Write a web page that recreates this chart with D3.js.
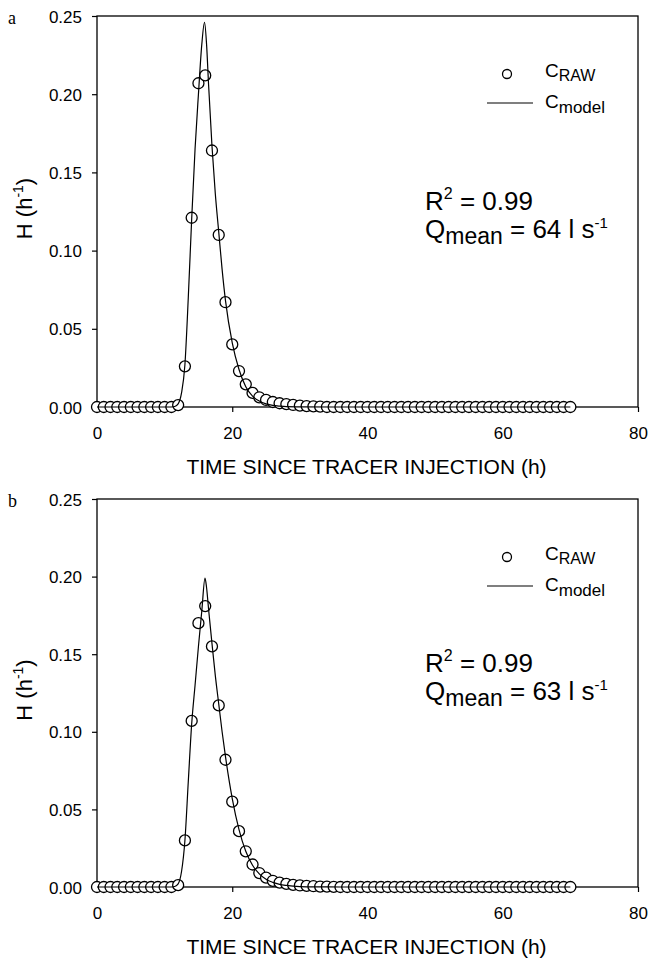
<!DOCTYPE html>
<html>
<head>
<meta charset="utf-8">
<script src="https://cdn.jsdelivr.net/npm/d3@7"></script>
<style>
  body { margin: 0; background: #fff; }
  svg text { font-family: "Liberation Sans", Arial, sans-serif; fill: #000; }
</style>
</head>
<body>
<div id="chart"></div>
<script>
// sampling times of the raw tracer data (h)
const rawTime = [0, 1, 2, 3, 4, 5, 6, 7, 8, 9, 10, 11, 12, 13, 14, 15, 16, 17, 18, 19,
  20, 21, 22, 23, 24, 25, 26, 27, 28, 29, 30, 31, 32, 33, 34, 35, 36, 37, 38, 39,
  40, 41, 42, 43, 44, 45, 46, 47, 48, 49, 50, 51, 52, 53, 54, 55, 56, 57, 58, 59,
  60, 61, 62, 63, 64, 65, 66, 67, 68, 69, 70];

// panel a
const rawA = [0, 0, 0, 0, 0, 0, 0, 0, 0, 0, 0, 0,
  0.0012, 0.026, 0.121, 0.207, 0.212, 0.164, 0.110, 0.067, 0.040, 0.023,
  0.0145, 0.009, 0.0062, 0.0045, 0.0032, 0.0024, 0.0018, 0.0013, 0.0009, 0.0006, 0.0004, 0.0002,
  0, 0, 0, 0, 0, 0, 0, 0, 0, 0, 0, 0, 0, 0, 0, 0, 0, 0, 0, 0, 0, 0, 0, 0, 0, 0, 0, 0, 0, 0, 0, 0, 0, 0, 0, 0, 0];
const modelTimeA = [0, 11, 11.5, 12, 12.5, 13, 13.5, 14, 14.5, 15, 15.5, 15.9, 16.2, 16.5, 17, 17.5,
  18, 18.5, 19, 20, 21, 22, 23, 24, 25, 26, 27, 28, 30, 35, 70];
const modelA = [0, 0, 0.0003, 0.002, 0.009, 0.027, 0.07, 0.12, 0.165, 0.2, 0.232, 0.246, 0.232, 0.206, 0.167, 0.136,
  0.112, 0.088, 0.068, 0.041, 0.024, 0.013, 0.007, 0.0038, 0.002, 0.001, 0.0005, 0.0002, 0.0001, 0, 0];

// panel b
const rawB = [0, 0, 0, 0, 0, 0, 0, 0, 0, 0, 0, 0,
  0.0012, 0.030, 0.107, 0.170, 0.181, 0.155, 0.117, 0.082, 0.055, 0.036,
  0.023, 0.0145, 0.009, 0.006, 0.004, 0.0028, 0.002, 0.0014, 0.001, 0.0007, 0.0005, 0.0003, 0.0002, 0.0001,
  0, 0, 0, 0, 0, 0, 0, 0, 0, 0, 0, 0, 0, 0, 0, 0, 0, 0, 0, 0, 0, 0, 0, 0, 0, 0, 0, 0, 0, 0, 0, 0, 0, 0, 0];
const modelTimeB = [0, 11, 11.5, 12, 12.5, 13, 13.5, 14, 14.5, 15, 15.5, 15.97, 16.2, 16.5, 17, 17.5,
  18, 18.5, 19, 20, 21, 22, 23, 24, 25, 26, 27, 28, 30, 33, 36, 70];
const modelB = [0, 0, 0.0003, 0.002, 0.01, 0.03, 0.068, 0.105, 0.13, 0.155, 0.178, 0.199, 0.193, 0.179, 0.157, 0.136,
  0.118, 0.1, 0.084, 0.057, 0.037, 0.023, 0.014, 0.0085, 0.005, 0.003, 0.0017, 0.001, 0.0003, 0.0001, 0, 0];

const xTicks = [0, 20, 40, 60, 80];
const yTicks = [0, 0.05, 0.10, 0.15, 0.20, 0.25];
const panelLetters = ["a", "b"];
const r2Labels = ["0.99", "0.99"];
const qLabels = ["64", "63"];

const W = 650, H = 960;
const svg = d3.select("#chart").append("svg")
       .attr("width", W)
       .attr("height", H);

function drawPanel(top, bottom, raw, mTime, mVal, letter, r2, q, annY) {
       var left = 97, right = 638;
       var x = d3.scaleLinear().domain([0, 80]).range([left, right]);
       var y = d3.scaleLinear().domain([0, 0.25]).range([bottom, top]);
       var g = svg.append("g");

       // frame
       g.append("rect")
              .attr("x", left).attr("y", top)
              .attr("width", right - left).attr("height", bottom - top)
              .attr("fill", "none").attr("stroke", "#000").attr("stroke-width", 1.3);

       // x axis
       var xa = g.append("g")
              .attr("transform", "translate(0," + bottom + ")")
              .call(d3.axisBottom(x).tickValues(xTicks).tickSize(5).tickFormat(d3.format("d")));
       xa.select(".domain").remove();
       xa.selectAll("line").attr("stroke-width", 1.2);
       xa.selectAll("text").attr("y", 32).attr("dy", null)
              .style("font-size", "17px").style("font-family", null);

       // y axis
       var ya = g.append("g")
              .attr("transform", "translate(" + left + ",0)")
              .call(d3.axisLeft(y).tickValues(yTicks).tickSize(5).tickFormat(d3.format(".2f")));
       ya.select(".domain").remove();
       ya.selectAll("line").attr("stroke-width", 1.2);
       ya.selectAll("text").attr("x", -15).attr("dy", "0.36em")
              .style("font-size", "17px").style("font-family", null);

       // raw data circles
       g.append("g").selectAll("circle")
              .data(rawTime.map((t, i) => [t, raw[i]]))
              .enter().append("circle")
              .attr("cx", d => x(d[0]))
              .attr("cy", d => y(d[1]))
              .attr("r", 5.5)
              .attr("fill", "#fff")
              .attr("stroke", "#000")
              .attr("stroke-width", 1.3);

       // model curve
       var line = d3.line()
              .x(d => x(d[0]))
              .y(d => y(d[1]))
              .curve(d3.curveMonotoneX);
       g.append("path")
              .datum(mTime.map((t, i) => [t, mVal[i]]))
              .attr("d", line)
              .attr("fill", "none")
              .attr("stroke", "#000")
              .attr("stroke-width", 1.2);

       // axis titles
       g.append("text")
              .attr("x", (left + right) / 2 - 1)
              .attr("y", bottom + 67)
              .attr("text-anchor", "middle")
              .style("font-size", "21px")
              .text("TIME SINCE TRACER INJECTION (h)");

       var yt = g.append("text")
              .attr("transform", "translate(32," + ((top + bottom) / 2 - 3) + ") rotate(-90)")
              .attr("text-anchor", "middle")
              .style("font-size", "22px");
       yt.append("tspan").text("H (h");
       yt.append("tspan").attr("dy", -9).style("font-size", "14px").text("-1");
       yt.append("tspan").attr("dy", 9).text(")");

       // panel letter
       g.append("text")
              .attr("x", 8).attr("y", top + 8)
              .style("font-family", "'Liberation Serif', 'Times New Roman', serif")
              .style("font-size", "18px")
              .text(letter);

       // legend
       g.append("circle")
              .attr("cx", 507).attr("cy", top + 58).attr("r", 4.5)
              .attr("fill", "#fff").attr("stroke", "#000").attr("stroke-width", 1.3);
       var l1 = g.append("text").attr("x", 545).attr("y", top + 61).style("font-size", "19px");
       l1.append("tspan").text("C");
       l1.append("tspan").attr("dy", 4).style("font-size", "16px").text("RAW");
       g.append("line")
              .attr("x1", 487).attr("x2", 533)
              .attr("y1", top + 87).attr("y2", top + 87)
              .attr("stroke", "#000").attr("stroke-width", 1.2);
       var l2 = g.append("text").attr("x", 545).attr("y", top + 92).style("font-size", "19px");
       l2.append("tspan").text("C");
       l2.append("tspan").attr("dy", 5).style("font-size", "17px").text("model");

       // fit annotation
       var a1 = g.append("text").attr("x", 425).attr("y", annY).style("font-size", "26px");
       a1.append("tspan").text("R");
       a1.append("tspan").attr("dy", -11).style("font-size", "16px").text("2");
       a1.append("tspan").attr("dy", 11).text(" = " + r2);
       var a2 = g.append("text").attr("x", 425).attr("y", annY + 28).style("font-size", "26px");
       a2.append("tspan").text("Q");
       a2.append("tspan").attr("dy", 6).style("font-size", "23px").text("mean");
       a2.append("tspan").attr("dy", -6).text(" = " + q + " l s");
       a2.append("tspan").attr("dy", -10).style("font-size", "15px").text("-1");
}

drawPanel(16, 407, rawA, modelTimeA, modelA, panelLetters[0], r2Labels[0], qLabels[0], 210);
drawPanel(499, 887, rawB, modelTimeB, modelB, panelLetters[1], r2Labels[1], qLabels[1], 672);
</script>
</body>
</html>
